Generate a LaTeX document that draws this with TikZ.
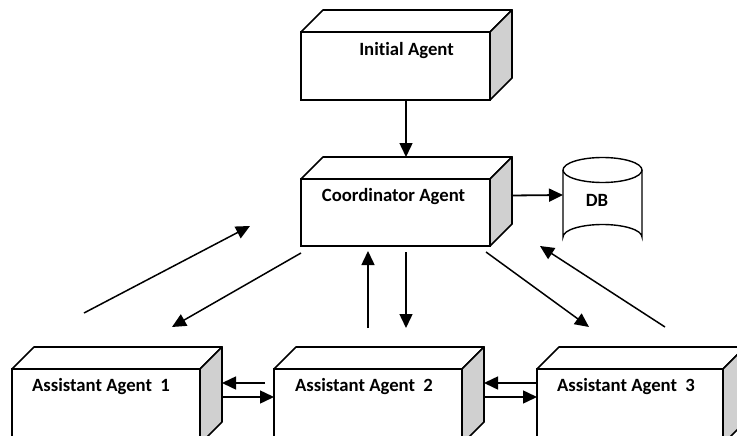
\documentclass[tikz,border=0pt]{standalone}
\usepackage{fontspec}
\setmainfont{Carlito}[Ligatures=NoCommon]
\usetikzlibrary{arrows.meta,calc}
\definecolor{sidegray}{HTML}{D0D0D0}
\tikzset{
  front/.style={draw, line width=1.7pt, fill=white, rectangle, inner sep=0pt, outer sep=0pt, anchor=north west},
  face/.style={draw, line width=1.7pt, line join=round},
  lbl/.style={font=\fontsize{18.7}{21}\selectfont\bfseries, inner sep=0pt},
  arr/.style={line width=1.5pt, -{Triangle[length=14pt,width=13pt]}},
}
\newcommand{\agentbox}[5]{%
  \node[front, minimum width=#4pt, minimum height=#5pt] (#1) at (#2,#3) {};
  \filldraw[face, fill=white] (#1.north west) -- ++(22,-22) -- ($(#1.north east)+(22,-22)$) -- (#1.north east) -- cycle;
  \filldraw[face, fill=sidegray] (#1.north east) -- ++(22,-22) -- ($(#1.south east)+(22,-22)$) -- (#1.south east) -- cycle;
  \draw[line width=1.7pt] (#1.north west) rectangle (#1.south east);
}
\begin{document}
\begin{tikzpicture}[x=1pt,y=-1pt]
\useasboundingbox (0,0) rectangle (737,436);
\clip (0,0) rectangle (737,436);
% boxes
\agentbox{ia}{301}{32}{189}{68}
\agentbox{ca}{301}{179}{189}{67}
\agentbox{a1}{12}{369}{188}{75}
\agentbox{a2}{274}{369}{188}{75}
\agentbox{a3}{537}{369}{186}{75}
% labels
\node[lbl] (tia) at ($(ia.north)+(11,19)$) {Initial Agent};
\node[lbl] (tca) at ($(ca.north)+(-2,18)$) {Coordinator Agent};
\node[lbl] (ta1) at ($(a1.north)+(-5,18)$) {Assistant Agent\ \ 1};
\node[lbl] (ta2) at ($(a2.north)+(-4,18)$) {Assistant Agent\ \ 2};
\node[lbl] (ta3) at ($(a3.north)+(-4,18)$) {Assistant Agent\ \ 3};
% DB cylinder
\draw[line width=1.4pt, fill=white] (563,170) -- (563,237) arc[start angle=180,end angle=360,x radius=39.5,y radius=12.5] -- (642,170);
\draw[line width=1.4pt] (602.5,170) ellipse [x radius=39.5, y radius=12.5];
\node[lbl] (db) at (597,200) {DB};
\coordinate (dbw) at (563,195);
% vertical arrow Initial -> Coordinator
\draw[arr] ($(ia.south)+(10.5,0)$) -- ($(ca.north)+(10.5,-22)$);
% Coordinator -> DB
\draw[arr, line width=1.8pt] ($(ca.east)+(21,-17)$) -- (dbw);
% free-end coordinates
\coordinate (p1s) at (84,313);   \coordinate (p1e) at (250,226);
\coordinate (p2s) at (301,253);  \coordinate (p2e) at (172,327);
\coordinate (p3s) at (368,328);  \coordinate (p3e) at (368,251);
\coordinate (p4s) at (406,252);  \coordinate (p4e) at (406,328);
\coordinate (p5s) at (486,252);  \coordinate (p5e) at (589,327);
\coordinate (p6s) at (665,327);  \coordinate (p6e) at (540,246);
\draw[arr] (p1s) -- (p1e);
\draw[arr] (p2s) -- (p2e);
\draw[arr] (p3s) -- (p3e);
\draw[arr] (p4s) -- (p4e);
\draw[arr] (p5s) -- (p5e);
\draw[arr] (p6s) -- (p6e);
% horizontal arrows between assistants
\draw[arr] ($(a2.north west)+(-9,14)$) -- ($(a1.north east)+(22,14)$);
\draw[arr] ($(a1.north east)+(22,28)$) -- ($(a2.north west)+(0,28)$);
\draw[arr] ($(a3.north west)+(0,14)$) -- ($(a2.north east)+(22,14)$);
\draw[arr] ($(a2.north east)+(22,28)$) -- ($(a3.north west)+(0,28)$);
\end{tikzpicture}
\end{document}
